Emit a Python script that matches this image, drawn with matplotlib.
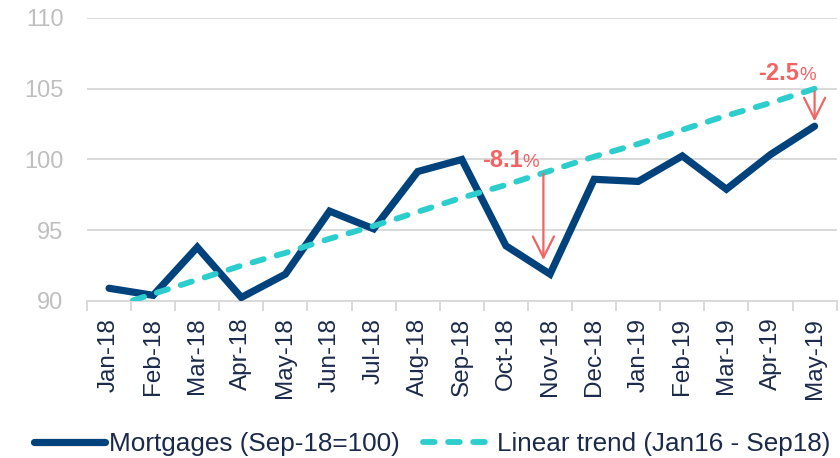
import numpy as np
import matplotlib.pyplot as plt

plt.rcParams["font.family"] = ["Liberation Sans", "DejaVu Sans"]

# ---------- data ----------
months = ["Jan-18", "Feb-18", "Mar-18", "Apr-18", "May-18", "Jun-18", "Jul-18",
          "Aug-18", "Sep-18", "Oct-18", "Nov-18", "Dec-18", "Jan-19", "Feb-19",
          "Mar-19", "Apr-19", "May-19"]
mortgages = [90.9, 90.4, 93.8, 90.25, 91.9, 96.35, 95.1, 99.15, 100.0, 93.9,
             91.9, 98.6, 98.45, 100.25, 97.9, 100.35, 102.35]
trend = [89.5, 90.5, 91.5, 92.5, 93.4, 94.4, 95.3, 96.3, 97.3, 98.2,
         99.2, 100.2, 101.1, 102.1, 103.1, 104.0, 105.0]
gaps = [("-8.1", 10, 99.2, 92.7), ("-2.5", 16, 105.0, 102.5)]

NAVY = "#00427C"
CYAN = "#2DCDCD"
RED = "#F26363"
TXT = "#1B2A4A"

x = np.arange(len(months))

fig = plt.figure(figsize=(8.4, 4.58), dpi=100)
ax = fig.add_axes([0.1036, 0.3428, 0.8924, 0.6179])

ax.plot(x, mortgages, color=NAVY, lw=5.2, solid_joinstyle="miter",
        solid_capstyle="round", label="Mortgages (Sep-18=100)", zorder=3)
ax.plot(x, trend, color=CYAN, lw=4.2, dashes=(2.0, 2.3), dash_capstyle="round",
        label="Linear trend (Jan16 - Sep18)", zorder=4)

# gap arrows + labels
for txt, i, y0, y1 in gaps:
    xa = i - 0.15 if i < 16 else i
    ax.annotate("", xy=(xa, y1), xytext=(xa, y0),
                arrowprops=dict(arrowstyle="->", color=RED, lw=1.6,
                                mutation_scale=38), zorder=5)
    tx = i - 0.62 if i < 16 else i - 0.35
    ty = y0 + 0.3 if i < 16 else y0 + 0.6
    ax.text(tx, ty, txt, color=RED, fontsize=17, fontweight="bold",
            ha="right", va="baseline")
    ax.text(tx, ty, "%", color=RED, fontsize=13.5, ha="left", va="baseline")

ax.set_ylim(90, 110)
ax.set_xlim(-0.5, len(months) - 0.5)
ax.set_yticks([90, 95, 100, 105, 110])
ax.yaxis.grid(True, color="#D9D9D9", lw=1.4)
ax.set_axisbelow(True)
ax.tick_params(axis="y", length=0, pad=17, labelsize=17, labelcolor="#BFBFBF")

ax.set_xticks(np.arange(-0.5, len(months), 1.0))
ax.set_xticklabels([])
ax.tick_params(axis="x", which="major", length=7, width=1.4, color="#D9D9D9")
ax.set_xticks(x, minor=True)
ax.set_xticklabels(months, minor=True, rotation=90)
ax.tick_params(axis="x", which="minor", length=0, pad=12, labelsize=17.5,
               labelcolor=TXT)

for s in ["left", "right", "top"]:
    ax.spines[s].set_visible(False)
ax.spines["bottom"].set_color("#D9D9D9")
ax.spines["bottom"].set_linewidth(1.4)

fig.legend(loc="lower center", bbox_to_anchor=(0.515, -0.047), ncol=2,
           frameon=False, fontsize=18.8, labelcolor=TXT, handlelength=2.7,
           handletextpad=0.15, columnspacing=0.9)

fig.savefig("out.png", dpi=100)
